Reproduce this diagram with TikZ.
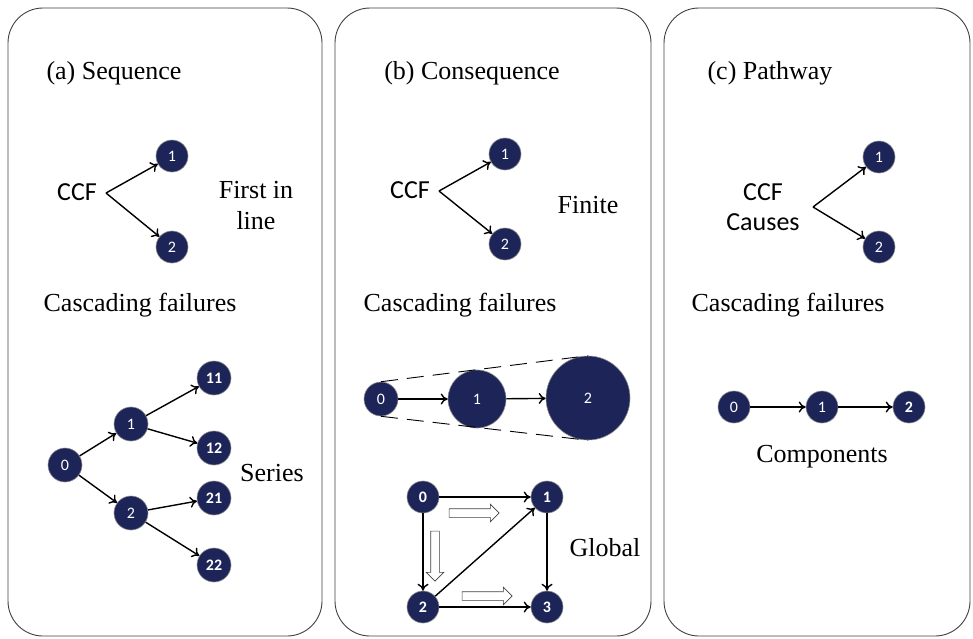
\documentclass[tikz,border=0pt]{standalone}
\usepackage{fontspec}
\setmainfont{Liberation Serif}
\newfontfamily\carl{Carlito}
\usetikzlibrary{arrows.meta,shapes.arrows}
\definecolor{navy}{HTML}{1D2558}
\begin{document}
\begin{tikzpicture}[x=1pt,y=-1pt,
 panel/.style={draw=black!75, line width=0.9pt, rounded corners=35pt},
 nd/.style={circle, fill=navy, draw=black!45, line width=0.6pt, minimum size=32pt, inner sep=0pt, text=white, font=\carl\fontsize{16}{16}\selectfont},
 bnd/.style={nd, font=\carl\bfseries\fontsize{16}{16}\selectfont},
 lab/.style={font=\fontsize{26}{31}\selectfont, inner sep=0pt, align=center},
 slab/.style={font=\carl\fontsize{26}{30}\selectfont, align=center, inner sep=0pt},
 arr/.style={-{To[length=7pt,width=11pt]}, line width=1.4pt},
 hollow/.style={single arrow, draw=black!75, fill=white, minimum height=50pt, minimum width=0pt, inner xsep=0pt, inner ysep=4pt, single arrow head extend=4.5pt, line width=0.6pt}
]
\useasboundingbox (0,0) rectangle (973,638);
% panels
\draw[panel] (8,8) rectangle (322,636);
\draw[panel] (335,8) rectangle (651,636);
\draw[panel] (664,8) rectangle (970,636);

% ---------- (a)
\node[lab] (ta) at (114,73) {(a) Sequence};
\node[slab] (ccfa) at (77,192) {CCF};
\coordinate (sa) at (106,193);
\node[nd] (a1) at (172,156) {1};
\node[nd] (a2) at (172,247) {2};
\draw[arr] (sa) -- (a1);
\draw[arr] (sa) -- (a2);
\node[lab] (fil) at (256,206) {First in\\line};
\node[lab] (cfa) at (140,305) {Cascading failures};
\node[nd, minimum size=34pt] (t0) at (65,465) {0};
\node[nd, minimum size=34pt] (t1) at (131,424) {1};
\node[nd, minimum size=34pt] (t2) at (131,513) {2};
\node[bnd, minimum size=34pt] (t11) at (214,378) {11};
\node[bnd, minimum size=34pt] (t12) at (214,448) {12};
\node[bnd, minimum size=34pt] (t21) at (214,498) {21};
\node[bnd, minimum size=34pt] (t22) at (214,565) {22};
\draw[arr] (t0) -- (t1);
\draw[arr] (t0) -- (t2);
\draw[arr] (t1) -- (t11);
\draw[arr] (t1) -- (t12);
\draw[arr] (t2) -- (t21);
\draw[arr] (t2) -- (t22);
\node[lab] (ser) at (272,473) {Series};

% ---------- (b)
\node[lab] (tb) at (472,73) {(b) Consequence};
\node[slab] (ccfb) at (410,190) {CCF};
\coordinate (sb) at (439,191);
\node[nd] (b1) at (505,154) {1};
\node[nd] (b2) at (505,244) {2};
\draw[arr] (sb) -- (b1);
\draw[arr] (sb) -- (b2);
\node[lab] (fin) at (588,205) {Finite};
\node[lab] (cfb) at (460,305) {Cascading failures};
\node[nd, minimum size=34pt] (c0) at (381,399) {0};
\node[nd, minimum size=58pt] (c1) at (477,399) {1};
\node[nd, minimum size=84pt] (c2) at (588,398) {2};
\draw[arr] (c0) -- (c1);
\draw[arr] (c1) -- (c2);
\draw[dash pattern=on 17pt off 9pt, line width=0.9pt] (c0.north) -- (c2.north);
\draw[dash pattern=on 17pt off 9pt, line width=0.9pt] (c0.south) -- (c2.south);
\node[bnd] (g0) at (423,497) {0};
\node[bnd] (g1) at (547,497) {1};
\node[bnd] (g2) at (423,607) {2};
\node[bnd] (g3) at (547,607) {3};
\draw[arr] (g0) -- (g1);
\draw[arr] (g0) -- (g2);
\draw[arr] (g2) -- (g1);
\draw[arr] (g2) -- (g3);
\draw[arr] (g1) -- (g3);
\node[hollow] (h1) at (472,513) {};
\node[hollow, rotate=-90] (h2) at (435,554) {};
\node[hollow] (h3) at (485,596) {};
\node[lab] (glo) at (605,548) {Global};

% ---------- (c)
\node[lab] (tc) at (770,73) {(c) Pathway};
\node[slab] (ccfc) at (763,207) {CCF\\Causes};
\coordinate (sc) at (813,207);
\node[nd] (p1) at (879,157) {1};
\node[nd] (p2) at (879,247) {2};
\draw[arr] (sc) -- (p1);
\draw[arr] (sc) -- (p2);
\node[lab] (cfc) at (788,305) {Cascading failures};
\node[nd] (q0) at (734,407) {0};
\node[nd] (q1) at (822,407) {1};
\node[bnd] (q2) at (909,407) {2};
\draw[arr] (q0) -- (q1);
\draw[arr] (q1) -- (q2);
\node[lab] (comp) at (822,457) {Components};
\end{tikzpicture}
\end{document}
